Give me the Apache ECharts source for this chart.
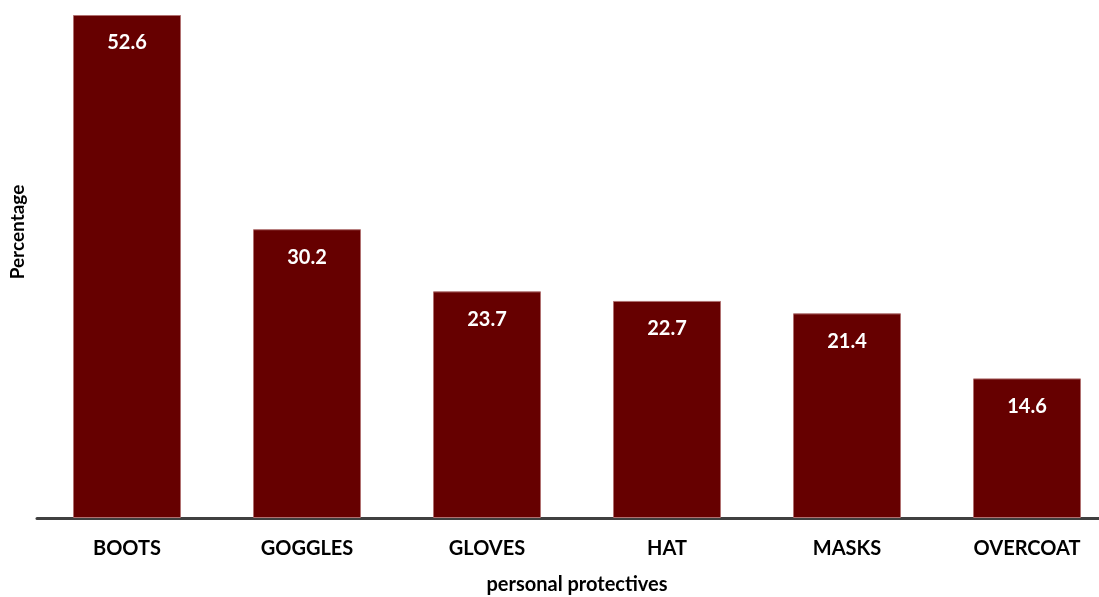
<!DOCTYPE html>
<html>
<head>
<meta charset="utf-8">
<script src="https://cdn.jsdelivr.net/npm/echarts@6/dist/echarts.min.js"></script>
<style>html,body{margin:0;padding:0;background:#fff}#c{width:1099px;height:597px}</style>
</head>
<body>
<div id="c"></div>
<script>
const categories = ['BOOTS', 'GOGGLES', 'GLOVES', 'HAT', 'MASKS', 'OVERCOAT'];
const values = [52.6, 30.2, 23.7, 22.7, 21.4, 14.6];
const xName = 'personal protectives';
const yName = 'Percentage';

const font = 'Lato, "Open Sans", sans-serif';
const chart = echarts.init(document.getElementById('c'));
chart.setOption({
  animation: false,
  grid: { left: 37, right: -18, top: 15, bottom: 79, containLabel: false, outerBoundsMode: 'none' },
  xAxis: {
    type: 'category',
    data: categories,
    name: xName,
    nameLocation: 'middle',
    nameGap: 57,
    nameTextStyle: { fontFamily: font, fontWeight: 'bold', fontSize: 20, color: '#000' },
    axisLine: { lineStyle: { color: '#404040', width: 3 } },
    axisTick: { show: false },
    axisLabel: { fontFamily: font, fontWeight: 'bold', fontSize: 20, color: '#000', margin: 21 }
  },
  yAxis: {
    type: 'value',
    min: 0,
    max: 52.6,
    show: false
  },
  graphic: [{
    type: 'text',
    x: 18, y: 232,
    rotation: Math.PI / 2,
    style: { text: yName, fontFamily: font, fontWeight: 'bold', fontSize: 19, fill: '#000', align: 'center', verticalAlign: 'middle' }
  }],
  series: [{
    type: 'bar',
    data: values,
    barWidth: 108,
    itemStyle: { color: '#660000', borderColor: '#b07070', borderWidth: 1 },
    label: {
      show: true,
      position: 'insideTop',
      distance: 18,
      fontFamily: font,
      fontWeight: 'bold',
      fontSize: 20,
      color: '#fff',
      formatter: p => p.value.toFixed(1)
    }
  }]
});
</script>
</body>
</html>
